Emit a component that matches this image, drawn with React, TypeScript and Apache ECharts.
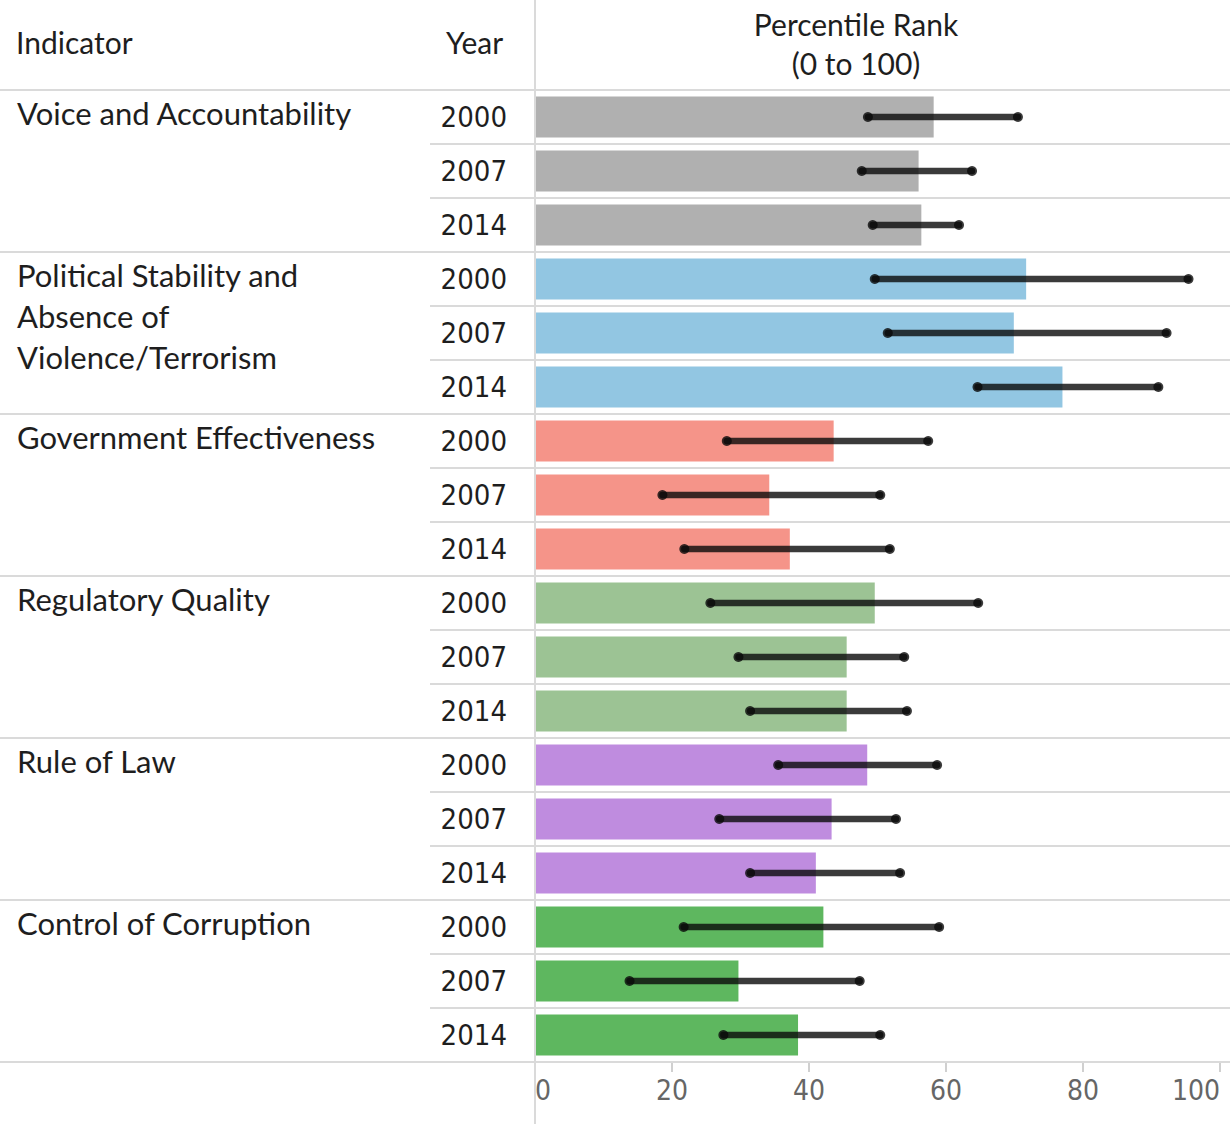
import React, { useEffect, useRef } from "react";
import * as echarts from "echarts";

// Worldwide Governance Indicators: percentile rank with margin of error
const indicators = [
  "Voice and Accountability",
  "Political Stability and\nAbsence of\nViolence/Terrorism",
  "Government Effectiveness",
  "Regulatory Quality",
  "Rule of Law",
  "Control of Corruption",
];
const years = ["2000", "2007", "2014"];
const rank = [
  58.2, 56.0, 56.4,
  71.7, 69.9, 77.0,
  43.6, 34.2, 37.2,
  49.6, 45.5, 45.5,
  48.5, 43.3, 41.0,
  42.1, 29.7, 38.4,
];
const lower = [
  48.6, 47.7, 49.3,
  49.6, 51.5, 64.6,
  28.0, 18.6, 21.8,
  25.6, 29.7, 31.4,
  35.5, 26.9, 31.4,
  21.7, 13.8, 27.5,
];
const upper = [
  70.5, 63.8, 61.9,
  95.4, 92.2, 91.0,
  57.4, 50.4, 51.8,
  64.7, 53.9, 54.3,
  58.7, 52.7, 53.3,
  59.0, 47.4, 50.4,
];
const groupColors = ["#b0b0b0", "#92c6e2", "#f59489", "#9cc394", "#bf8cdf", "#5eb75f"];
const xTicks = [0, 20, 40, 60, 80, 100];

const W = 1230;
const H = 1124;
const TEXT_FONT = "Lato, 'Open Sans', sans-serif";
const NUM_FONT = "'DejaVu Sans Condensed', Lato, sans-serif";
const RULE = "#dadada";

export default function App() {
  const ref = useRef<HTMLDivElement>(null);

  useEffect(() => {
    if (!ref.current) return;
    const chart = echarts.init(ref.current, null, { renderer: "svg" });

    const rows: string[] = [];
    indicators.forEach((ind) => years.forEach((y) => rows.push(ind + "|" + y)));

    chart.setOption({
      animation: false,
      backgroundColor: "#ffffff",
      grid: { left: 535, right: 10, top: 90, bottom: 62, containLabel: false },
      xAxis: {
        type: "value",
        min: xTicks[0],
        max: xTicks[xTicks.length - 1],
        interval: 20,
        axisLine: { show: false },
        axisTick: { show: true, length: 10, lineStyle: { color: "#d0d0d0", width: 2 } },
        splitLine: { show: false },
        axisLabel: {
          fontSize: 28,
          color: "#666666",
          fontFamily: NUM_FONT,
          margin: 14,
          alignMinLabel: "left",
          alignMaxLabel: "right",
        },
      },
      yAxis: {
        type: "category",
        data: rows,
        inverse: true,
        axisLine: { show: false },
        axisTick: { show: false },
        splitLine: { show: false },
        axisLabel: {
          formatter: (v: string) => v.split("|")[1],
          fontSize: 29,
          color: "#1e1e1e",
          fontFamily: NUM_FONT,
          margin: 28,
        },
      },
      series: [
        {
          type: "bar",
          barWidth: 41,
          z: 2,
          data: rank.map((v, i) => ({
            value: v,
            itemStyle: { color: groupColors[Math.floor(i / 3)] },
          })),
        },
        {
          type: "custom",
          z: 6,
          dimensions: ["low", "high", "row"],
          encode: { x: [0, 1], y: 2 },
          data: rank.map((_, i) => [lower[i], upper[i], i]),
          renderItem: (_params: any, api: any) => {
            const row = api.value(2);
            const a = api.coord([api.value(0), row]);
            const b = api.coord([api.value(1), row]);
            const ink = "rgba(10,10,10,0.8)";
            return {
              type: "group",
              children: [
                {
                  type: "line",
                  shape: { x1: a[0], y1: a[1], x2: b[0], y2: b[1] },
                  style: { stroke: ink, lineWidth: 6.5, lineCap: "round" },
                },
                { type: "circle", shape: { cx: a[0], cy: a[1], r: 5 }, style: { fill: ink } },
                { type: "circle", shape: { cx: b[0], cy: b[1], r: 5 }, style: { fill: ink } },
              ],
            };
          },
        },
      ],
    });

    // Table rules and the indicator column, placed on the category axis
    const half = 27;
    const rowTop = (i: number) =>
      (chart.convertToPixel({ yAxisIndex: 0 }, rows[i]) as number) - half;
    const lastBottom = rowTop(rows.length - 1) + 2 * half;
    const axisX = chart.convertToPixel({ xAxisIndex: 0 }, 0) as number;

    const graphics: any[] = [];
    graphics.push({
      type: "line",
      shape: { x1: axisX, y1: 0, x2: axisX, y2: H },
      style: { stroke: RULE, lineWidth: 2 },
      z: 5,
    });
    for (let k = 0; k <= rows.length; k++) {
      const y = k === rows.length ? lastBottom : rowTop(k);
      const full = k % 3 === 0;
      graphics.push({
        type: "line",
        shape: { x1: full ? 0 : 430, y1: y, x2: W, y2: y },
        style: { stroke: RULE, lineWidth: 2 },
        z: 5,
      });
    }
    indicators.forEach((ind, g) => {
      graphics.push({
        type: "text",
        x: 17,
        y: rowTop(g * 3) + half - 20.5 - 4,
        style: {
          text: ind,
          fontSize: 31,
          fontFamily: TEXT_FONT,
          fill: "#1e1e1e",
          lineHeight: 41,
          align: "left",
          verticalAlign: "top",
        },
        z: 10,
      });
    });
    const header = (text: string, x: number, y: number, align: string) => ({
      type: "text",
      x,
      y,
      style: {
        text,
        fontSize: 30,
        fontFamily: TEXT_FONT,
        fill: "#1e1e1e",
        align,
        verticalAlign: "middle",
      },
      z: 10,
    });
    graphics.push(header("Indicator", 16, 42, "left"));
    graphics.push(header("Year", 446, 42, "left"));
    graphics.push(header("Percentile Rank", 856, 24, "center"));
    graphics.push(header("(0 to 100)", 856, 63, "center"));

    chart.setOption({ graphic: graphics });

    return () => chart.dispose();
  }, []);

  return (
    <div
      ref={ref}
      style={{ position: "fixed", left: 0, top: 0, width: W, height: H, background: "#fff" }}
    />
  );
}
